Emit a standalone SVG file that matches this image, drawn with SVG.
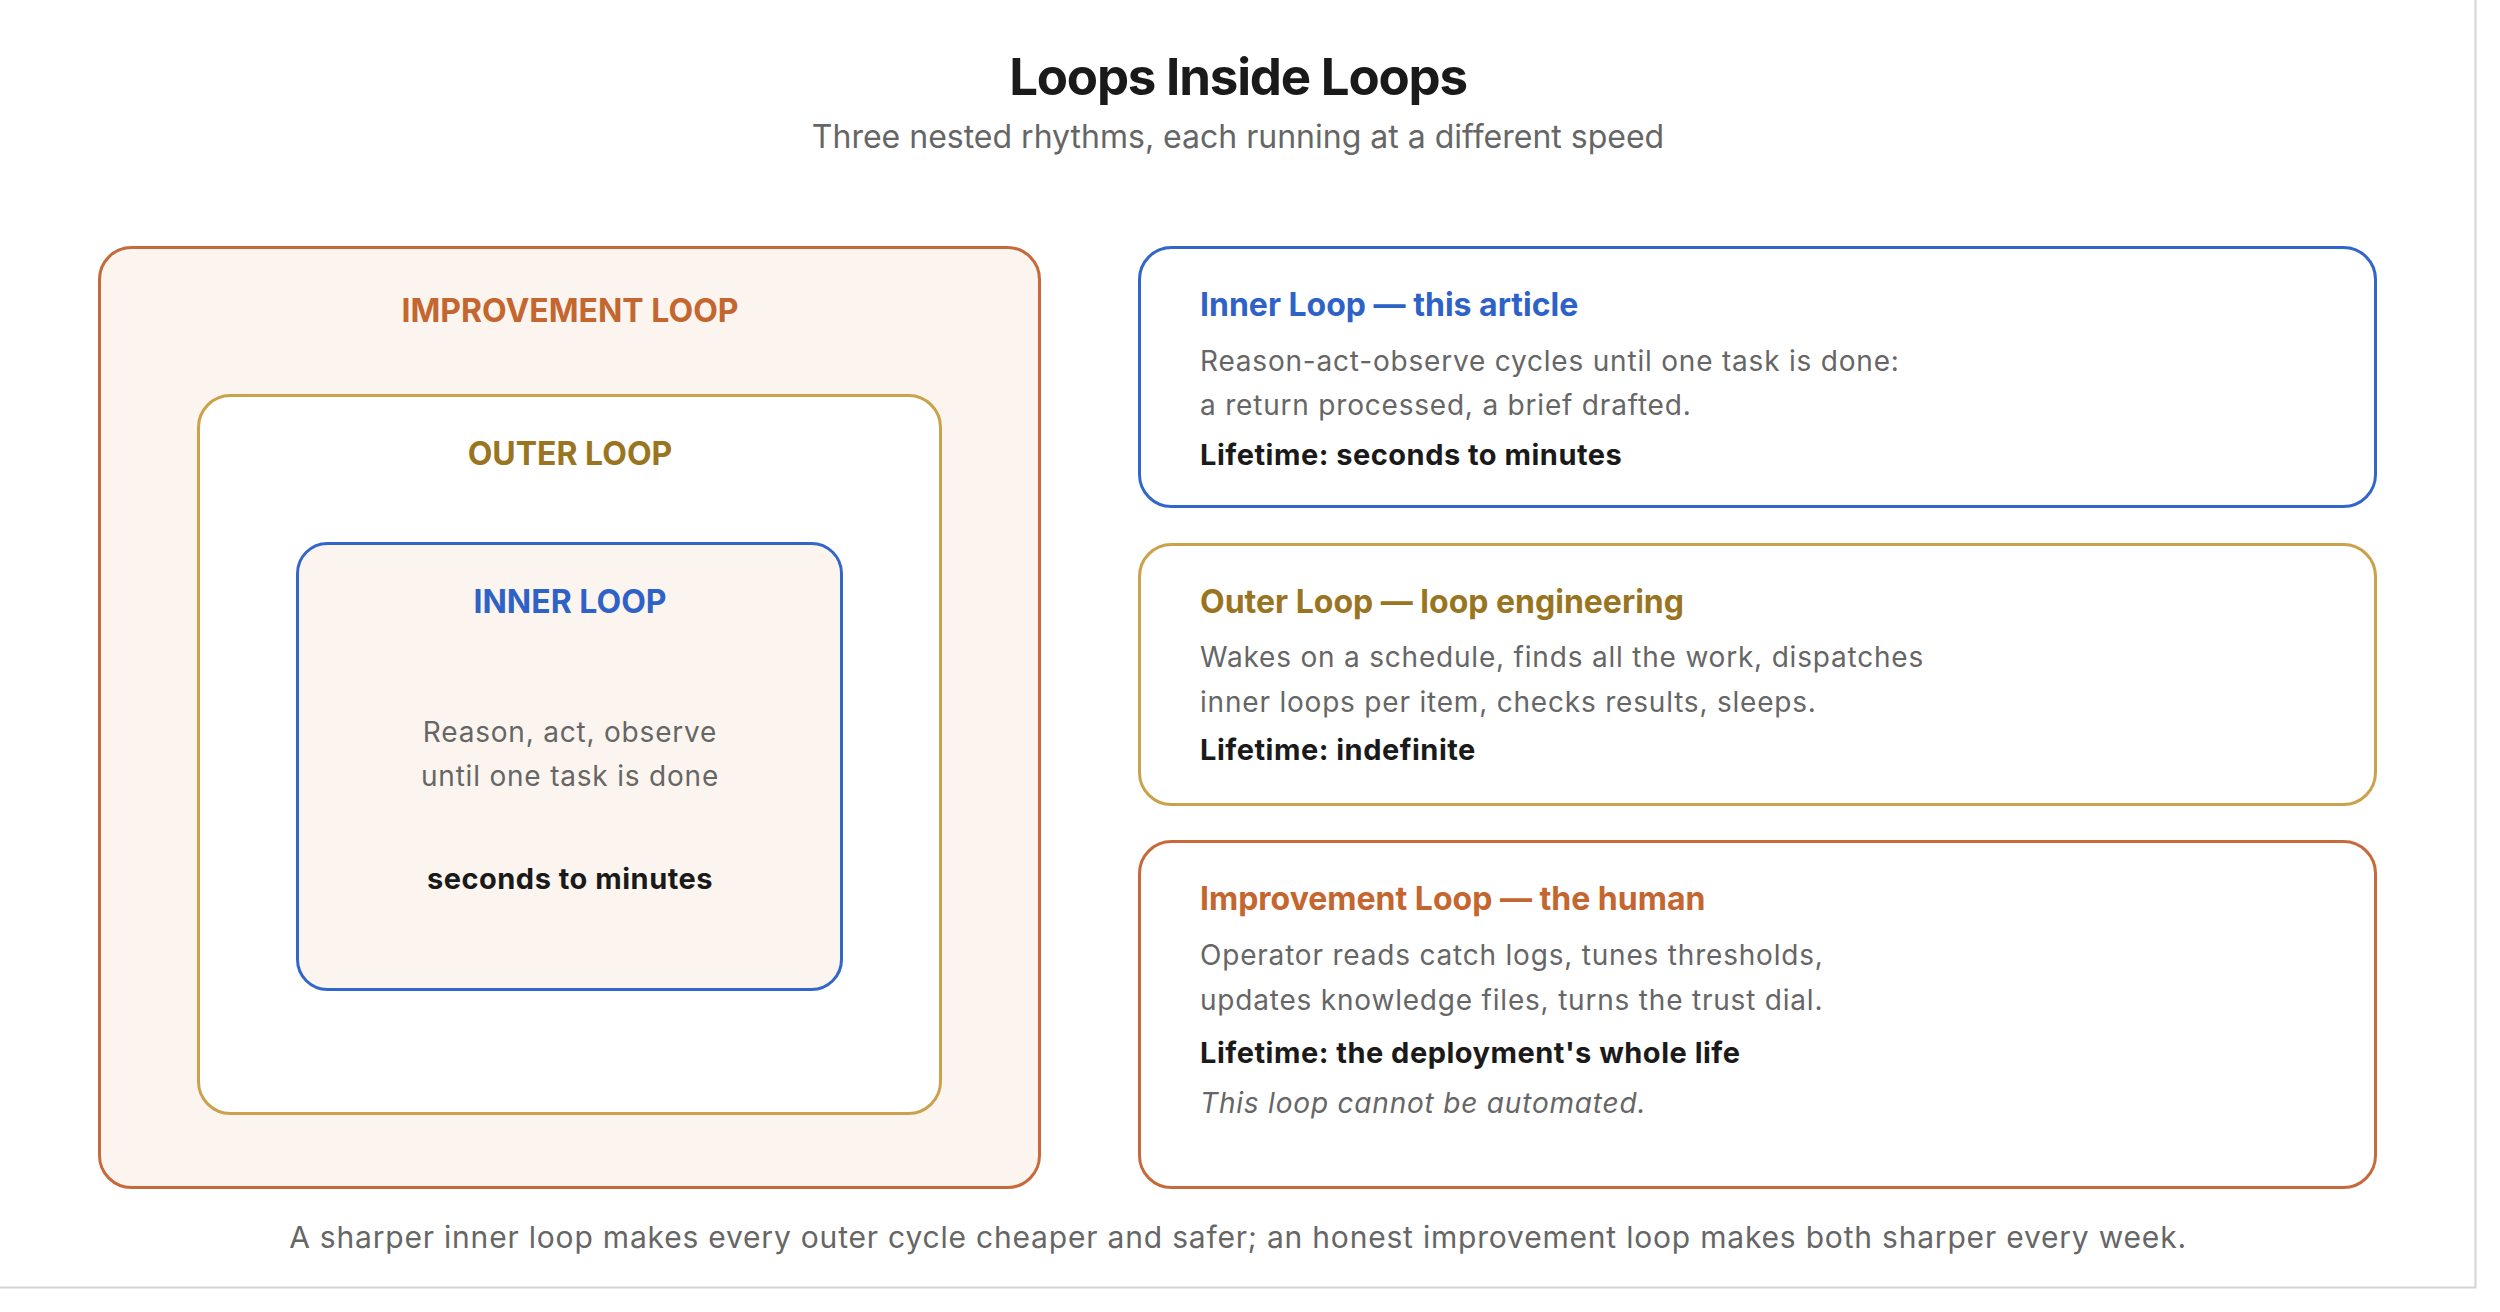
<svg xmlns="http://www.w3.org/2000/svg" width="2500" height="1312" viewBox="0 0 2500 1312">
<style>
text{font-family:Inter,"Liberation Sans",sans-serif}
.title{font-size:51px;font-weight:700;fill:#1a1a1a;text-anchor:middle;letter-spacing:-1.2px}
.sub{font-size:32px;fill:#666;text-anchor:middle}
.lbl{font-size:32px;font-weight:700;text-anchor:middle}
.ctitle{font-size:32px;font-weight:700}
.body{font-size:28px;fill:#666;letter-spacing:0.8px}
.foot{font-size:30px;fill:#666;letter-spacing:0.8px;text-anchor:middle}
.life{font-size:29px;font-weight:700;fill:#1a1a1a;letter-spacing:0.5px}
.ital{font-style:italic}
.ctr{text-anchor:middle}
.orange{fill:#c4662f}
.gold{fill:#9a7521}
.blue{fill:#2f62c6}
.bo{stroke:#c76a3b}
.bg{stroke:#cba24b}
.bb{stroke:#3366c9}
rect{stroke-width:3}
</style>
<rect x="0" y="0" width="2500" height="1312" fill="#fff" stroke="none"/>
<path d="M0 1287.5H2475.5V0" fill="none" stroke="#d4d4d4" stroke-width="2"/>
<text class="title" x="1238" y="95">Loops Inside Loops</text>
<text class="sub" x="1238" y="148">Three nested rhythms, each running at a different speed</text>

<g id="improvement-loop">
<rect class="bo" x="99.5" y="247.5" width="940" height="940" rx="32" fill="#fcf5ef"/>
<text class="lbl orange" x="570" y="322">IMPROVEMENT LOOP</text>
</g>
<g id="outer-loop">
<rect class="bg" x="198.5" y="395.5" width="742" height="718" rx="32" fill="#fff"/>
<text class="lbl gold" x="570" y="465">OUTER LOOP</text>
</g>
<g id="inner-loop">
<rect class="bb" x="297.5" y="543.5" width="544" height="446" rx="30" fill="#fcf5ef"/>
<text class="lbl blue" x="570" y="613">INNER LOOP</text>
<text class="body ctr" x="570" y="742">Reason, act, observe</text>
<text class="body ctr" x="570" y="786">until one task is done</text>
<text class="life ctr" x="570" y="889">seconds to minutes</text>
</g>

<g id="card-inner">
<rect class="bb" x="1139.5" y="247.5" width="1236" height="259" rx="32" fill="#fff"/>
<text class="ctitle blue" x="1200" y="316">Inner Loop — this article</text>
<text class="body" x="1200" y="371">Reason-act-observe cycles until one task is done:</text>
<text class="body" x="1200" y="415">a return processed, a brief drafted.</text>
<text class="life" x="1200" y="465">Lifetime: seconds to minutes</text>
</g>
<g id="card-outer">
<rect class="bg" x="1139.5" y="544.5" width="1236" height="260" rx="32" fill="#fff"/>
<text class="ctitle gold" x="1200" y="613">Outer Loop — loop engineering</text>
<text class="body" x="1200" y="667">Wakes on a schedule, finds all the work, dispatches</text>
<text class="body" x="1200" y="712">inner loops per item, checks results, sleeps.</text>
<text class="life" x="1200" y="760">Lifetime: indefinite</text>
</g>
<g id="card-improvement">
<rect class="bo" x="1139.5" y="841.5" width="1236" height="346" rx="32" fill="#fff"/>
<text class="ctitle orange" x="1200" y="910">Improvement Loop — the human</text>
<text class="body" x="1200" y="965">Operator reads catch logs, tunes thresholds,</text>
<text class="body" x="1200" y="1010">updates knowledge files, turns the trust dial.</text>
<text class="life" x="1200" y="1063">Lifetime: the deployment's whole life</text>
<text class="body ital" x="1200" y="1113">This loop cannot be automated.</text>
</g>
<g id="connectors"></g>
<text class="foot" x="1238" y="1248">A sharper inner loop makes every outer cycle cheaper and safer; an honest improvement loop makes both sharper every week.</text>
</svg>
